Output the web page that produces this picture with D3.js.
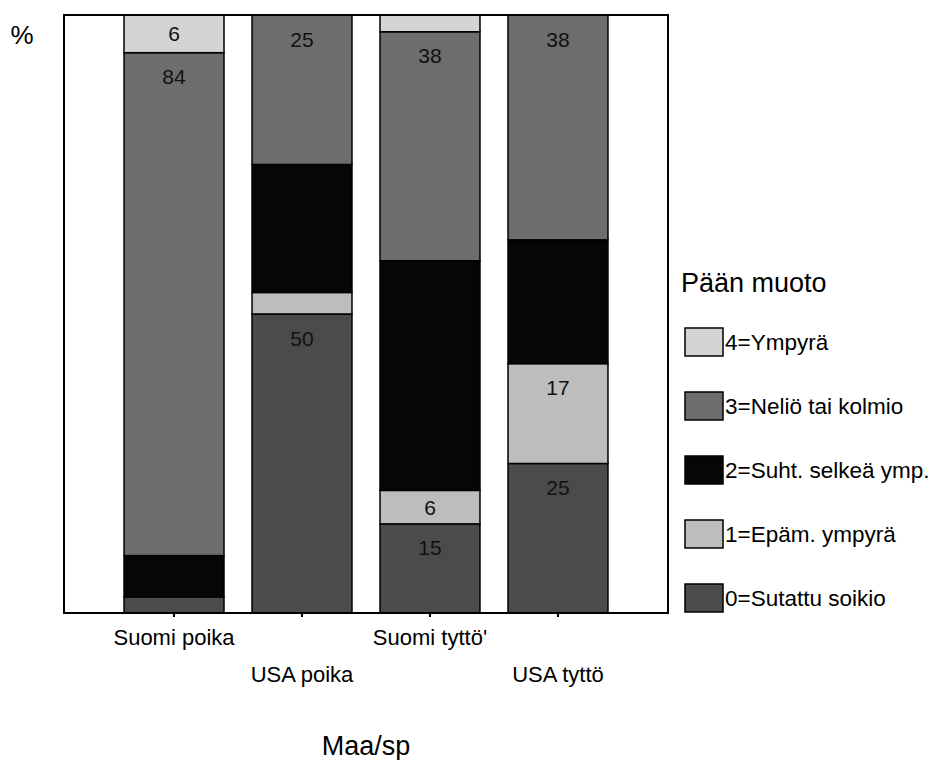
<!DOCTYPE html>
<html>
<head>
<meta charset="utf-8">
<script src="https://cdn.jsdelivr.net/npm/d3@7/dist/d3.min.js"></script>
<style>
  html, body { margin: 0; padding: 0; background: #fff; }
  svg { display: block; font-family: "Liberation Sans", Arial, Helvetica, sans-serif; }
</style>
</head>
<body>
<svg id="chart" width="939" height="760"></svg>
<script>
// ---- data ----
const categories = ["Suomi poika", "USA poika", "Suomi tyttö'", "USA tyttö"];
const seriesNames = ["0=Sutattu soikio", "1=Epäm. ympyrä", "2=Suht. selkeä ymp.", "3=Neliö tai kolmio", "4=Ympyrä"];
const sutattuSoikio = [2.7, 50.0, 14.9, 25.0];
const epamYmpyra    = [0.0, 3.6, 5.6, 16.7];
const suhtSelkea    = [6.9, 21.4, 38.4, 20.7];
const nelioKolmio   = [84.1, 25.0, 38.3, 37.6];
const ympyra        = [6.3, 0.0, 2.8, 0.0];
const yTitle = "%";
const xTitle = "Maa/sp";
const legendTitle = "Pään muoto";

const seriesValues = [sutattuSoikio, epamYmpyra, suhtSelkea, nelioKolmio, ympyra];
const colors = ["#4b4b4b", "#bdbdbd", "#060606", "#6d6d6d", "#d4d4d4"];

// ---- layout ----
const svg = d3.select("#chart");
const margin = { left: 64, top: 15 };
const W = 604, H = 598;
const g = svg.append("g").attr("transform", `translate(${margin.left},${margin.top})`);

const x = d3.scaleBand().domain(categories).range([0, W]).paddingInner(0.219).paddingOuter(0.469);
const y = d3.scaleLinear().domain([0, 100]).range([H, 0]);

const table = categories.map((c, i) => {
  const row = { cat: c };
  seriesNames.forEach((s, j) => row[s] = seriesValues[j][i]);
  return row;
});
const stacked = d3.stack().keys(seriesNames)(table);

const layers = g.selectAll("g.layer").data(stacked).join("g").attr("class", "layer")
  .attr("fill", (d, i) => colors[i]);

layers.selectAll("rect").data(d => d.filter(p => p[1] - p[0] > 0)).join("rect")
  .attr("x", d => x(d.data.cat))
  .attr("width", x.bandwidth())
  .attr("y", d => y(d[1]))
  .attr("height", d => y(d[0]) - y(d[1]))
  .attr("stroke", "#000")
  .attr("stroke-width", 1.5);

// value labels
stacked.forEach((layer, i) => {
  if (colors[i] === "#060606") return;
  layer.forEach(p => {
    const v = p[1] - p[0];
    if (v < 5) return;
    const top = y(p[1]), h = y(p[0]) - y(p[1]);
    g.append("text")
      .attr("x", x(p.data.cat) + x.bandwidth() / 2)
      .attr("y", top + Math.min(24, h / 2))
      .attr("dy", "0.36em")
      .attr("text-anchor", "middle")
      .attr("font-size", 21)
      .attr("fill", "#111")
      .text(d3.format(".0f")(v));
  });
});

// frame
g.append("rect").attr("x", 0).attr("y", 0).attr("width", W).attr("height", H)
  .attr("fill", "none").attr("stroke", "#000").attr("stroke-width", 2);

// x axis ticks
const xAxis = g.append("g").attr("transform", `translate(0,${H})`)
  .call(d3.axisBottom(x).tickSize(4).tickFormat(""));
xAxis.select(".domain").remove();
xAxis.selectAll(".tick line").attr("stroke", "#000").attr("stroke-width", 2);

// staggered tick labels
g.selectAll("text.xlab").data(categories).join("text").attr("class", "xlab")
  .attr("x", d => x(d) + x.bandwidth() / 2)
  .attr("y", (d, i) => H + (i % 2 === 0 ? 32 : 69))
  .attr("text-anchor", "middle")
  .attr("font-size", 22)
  .attr("fill", "#000")
  .text(d => d);

// axis titles
svg.append("text").attr("x", 22).attr("y", 44).attr("text-anchor", "middle")
  .attr("font-size", 26).attr("fill", "#000").text(yTitle);
svg.append("text").attr("x", 366).attr("y", 755).attr("text-anchor", "middle")
  .attr("font-size", 27).attr("fill", "#000").text(xTitle);

// legend
const lg = svg.append("g");
lg.append("text").attr("x", 681).attr("y", 292).attr("font-size", 27).attr("fill", "#000").text(legendTitle);
const order = [4, 3, 2, 1, 0];
order.forEach((si, k) => {
  const top = 328 + k * 64;
  lg.append("rect").attr("x", 685).attr("y", top).attr("width", 38).attr("height", 28)
    .attr("fill", colors[si]).attr("stroke", "#000").attr("stroke-width", 1.5);
  lg.append("text").attr("x", 725).attr("y", top + 22).attr("font-size", 22.5)
    .attr("fill", "#000").text(seriesNames[si]);
});
</script>
</body>
</html>
